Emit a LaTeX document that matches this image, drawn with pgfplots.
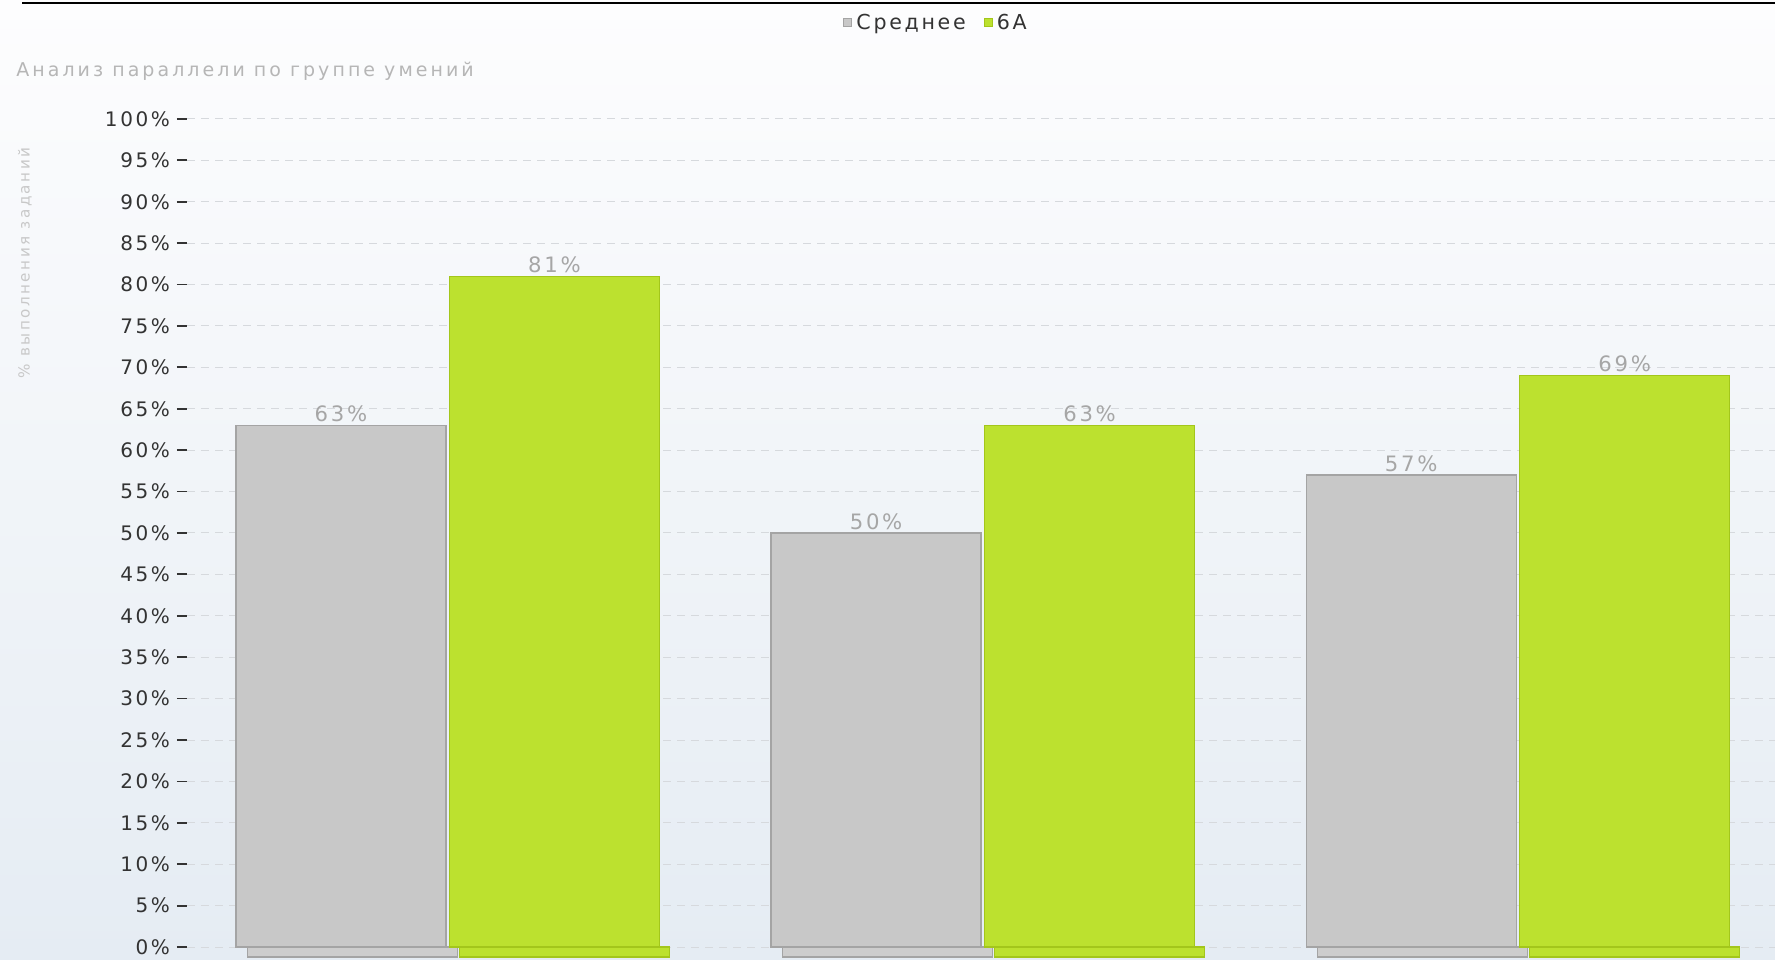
\documentclass[border=0pt]{standalone}
\usepackage{pgfplots}
\pgfplotsset{compat=1.18}
\usepackage{pgfplotstable}
\usepackage{fontspec}
\setmainfont{DejaVu Sans}
\newfontfamily\spaced{DejaVu Sans}[LetterSpace=13]
\newfontfamily\wide{DejaVu Sans}[LetterSpace=16]

\definecolor{bgTop}{HTML}{FDFDFE}
\definecolor{bgBot}{HTML}{E5ECF3}
\definecolor{barGray}{HTML}{C8C8C8}
\definecolor{barGrayEdge}{HTML}{A4A4A4}
\definecolor{barGreen}{HTML}{BCE12F}
\definecolor{barGreenEdge}{HTML}{A3C61B}
\definecolor{tickCol}{HTML}{333333}
\definecolor{valCol}{HTML}{A6A6A6}
\definecolor{titleCol}{HTML}{B6B6B6}
\definecolor{ylabCol}{HTML}{C8C8C8}
\definecolor{gridCol}{HTML}{D6D9DD}

% group, average, class 6A, shadow strip under the bars
\pgfplotstableread{
x avg cls shadow
0 63  81  -1.2
1 50  63  -1.2
2 57  69  -1.2
}\datatable

\begin{document}
\begin{tikzpicture}[x=1pt,y=1pt]
\useasboundingbox (0,0) rectangle (887.5,479.5);
\shade[top color=bgTop, bottom color=bgBot] (0,0) rectangle (887.5,479.5);
\begin{axis}[
    at={(93.5pt,0pt)}, anchor=south west,
    scale only axis, width=794pt, height=420pt,
    xmin=-0.486, xmax=2.482, ymin=-1.45, ymax=100,
    axis line style={draw=none},
    xtick=\empty,
    ytick={0,5,...,100},
    ytick pos=left, tick align=outside, major tick length=5pt,
    ytick style={color=tickCol, line width=0.9pt},
    /pgf/number format/assume math mode=true,
    yticklabel={\pgfmathprintnumber{\tick}\%},
    yticklabel style={font=\spaced\fontsize{10}{11}\selectfont, text=tickCol},
    ymajorgrids,
    grid style={gridCol, dash pattern=on 4pt off 3pt, line width=0.5pt},
    ybar, bar width=105pt,
    title={Анализ параллели по группе умений},
    title style={at={(-0.1077,1.0429)}, anchor=west, yshift=0pt, inner sep=0pt,
        text=titleCol, font=\wide\fontsize{9.5}{10}\selectfont},
    ylabel={\% выполнения заданий},
    ylabel style={at={(-0.1020,0.8286)}, anchor=center, text=ylabCol,
        font=\wide\fontsize{7.6}{8}\selectfont},
    legend columns=2,
    legend style={draw=none, fill=none, at={(0.4723,1.1143)}, anchor=center,
        font=\spaced\fontsize{10.3}{11}\selectfont, text=tickCol,
        /tikz/every even column/.append style={column sep=7pt}},
    legend image code/.code={\fill[#1] (0pt,-1.8pt) rectangle (4pt,2.2pt);},
    every node near coord/.append style={text=valCol, inner sep=1.5pt,
        font=\spaced\fontsize{10.6}{11}\selectfont},
]
\addplot[forget plot, fill=barGray!90, draw=barGrayEdge, line width=0.6pt, bar shift=-47.25pt]
    table[x=x, y=shadow] {\datatable};
\addplot[forget plot, fill=barGreen, draw=barGreenEdge, line width=0.6pt, bar shift=58.75pt]
    table[x=x, y=shadow] {\datatable};
\addplot[fill=barGray, draw=barGrayEdge, line width=0.6pt, bar shift=-53pt,
    nodes near coords={\pgfmathprintnumber{\pgfplotspointmeta}\%}]
    table[x=x, y=avg] {\datatable};
\addlegendentry{Среднее}
\addplot[fill=barGreen, draw=barGreenEdge, line width=0.6pt, bar shift=53.75pt,
    nodes near coords={\pgfmathprintnumber{\pgfplotspointmeta}\%}]
    table[x=x, y=cls] {\datatable};
\addlegendentry{6А}
\end{axis}
\draw[line width=1.3pt] (11,478) -- (887.5,478);
\end{tikzpicture}
\end{document}
